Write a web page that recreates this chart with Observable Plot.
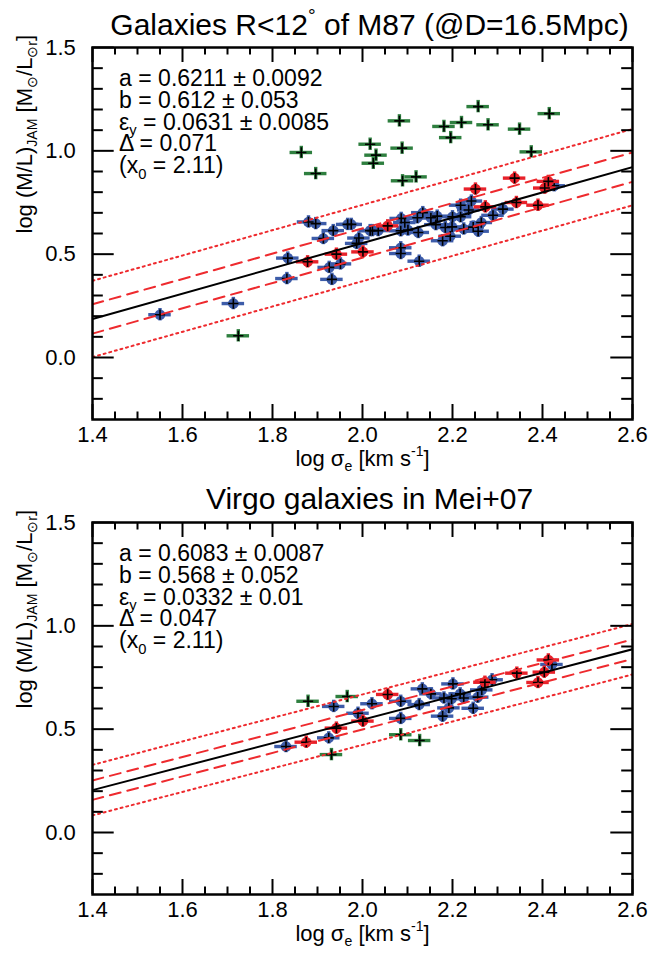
<!DOCTYPE html>
<html>
<head>
<meta charset="utf-8">
<script src="https://cdn.jsdelivr.net/npm/d3@7"></script>
<script src="https://cdn.jsdelivr.net/npm/@observablehq/plot@0.6"></script>
<style>
  body { margin: 0; background: #fff; }
  #chart svg { display: block; }
</style>
</head>
<body>
<div id="chart"></div>
<script>
const FONT = "'Liberation Sans', Arial, Helvetica, sans-serif";

// Axes: log sigma_e (x) and log (M/L)_JAM (y)
const xDomain = [1.4, 2.6];
const yDomain = [-0.3, 1.5];
const xMajor = [1.4, 1.6, 1.8, 2.0, 2.2, 2.4, 2.6];
const xMinor = [1.45, 1.5, 1.55, 1.65, 1.7, 1.75, 1.85, 1.9, 1.95, 2.05, 2.1, 2.15, 2.25, 2.3, 2.35, 2.45, 2.5, 2.55];
const yMajor = [0.0, 0.5, 1.0, 1.5];
const yMinor = [-0.2, -0.1, 0.1, 0.2, 0.3, 0.4, 0.6, 0.7, 0.8, 0.9, 1.1, 1.2, 1.3, 1.4];

// Typical measurement errors (dex)
const sigmaErr = 0.025;
const mlErr = 0.03;

// Outlier-clipping band half-width, in units of the observed rms
const clipSigma = 2.6;

// Galaxies within 12 deg of M87: [log sigma_e, log (M/L)]
const m87Blue = [
  [1.550, 0.207], [1.713, 0.261], [1.832, 0.382], [1.834, 0.481], [1.880, 0.656],
  [1.896, 0.648], [1.935, 0.614], [1.913, 0.576], [1.926, 0.436], [1.932, 0.378],
  [1.951, 0.453], [1.967, 0.644], [1.975, 0.644], [1.992, 0.578], [1.987, 0.552],
  [2.017, 0.614], [2.022, 0.614], [2.035, 0.614], [2.086, 0.673], [2.094, 0.653],
  [2.085, 0.613], [2.101, 0.617], [2.124, 0.605], [2.122, 0.676], [2.134, 0.701],
  [2.152, 0.676], [2.166, 0.684], [2.163, 0.643], [2.184, 0.629], [2.199, 0.632],
  [2.200, 0.681], [2.218, 0.737], [2.218, 0.681], [2.236, 0.714], [2.242, 0.757],
  [2.195, 0.587], [2.178, 0.565], [2.225, 0.622], [2.246, 0.631], [2.257, 0.611],
  [2.264, 0.653], [2.290, 0.688], [2.312, 0.718], [2.085, 0.531], [2.085, 0.503],
  [2.126, 0.466], [2.426, 0.831]
];
const m87Red = [
  [1.878, 0.463], [1.942, 0.500], [2.001, 0.511], [2.056, 0.637], [2.251, 0.815],
  [2.273, 0.729], [2.338, 0.868], [2.342, 0.750], [2.390, 0.737], [2.405, 0.820],
  [2.413, 0.852]
];
const m87Green = [
  [1.724, 0.105], [1.864, 0.992], [1.896, 0.890], [2.017, 1.032], [2.030, 0.979],
  [2.024, 0.940], [2.082, 1.145], [2.088, 1.013], [2.089, 0.855], [2.119, 0.874],
  [2.181, 1.118], [2.196, 1.064], [2.220, 1.137], [2.257, 1.214], [2.279, 1.126],
  [2.349, 1.105], [2.375, 0.995], [2.415, 1.180]
];
const m87Fit = { a: 0.6211, b: 0.612, delta: 0.071, x0: 2.11 };
const m87Stats = [
  [["a = 0.6211 ± 0.0092"]],
  [["b = 0.612 ± 0.053"]],
  [["ε"], ["y", "sub"], [" = 0.0631 ± 0.0085"]],
  [["Δ = 0.071"]],
  [["(x"], ["0", "sub"], [" = 2.11)"]]
];
const m87Title = [["Galaxies R<12"], ["°", "sup"], [" of M87 (@D=16.5Mpc)"]];

// Virgo galaxies with Mei+07 distances
const meiBlue = [
  [1.830, 0.416], [1.925, 0.458], [1.936, 0.610], [1.990, 0.577], [2.021, 0.623],
  [2.085, 0.635], [2.085, 0.552], [2.126, 0.619], [2.133, 0.695], [2.152, 0.671],
  [2.181, 0.651], [2.201, 0.719], [2.198, 0.647], [2.217, 0.671], [2.225, 0.651],
  [2.192, 0.603], [2.178, 0.563], [2.246, 0.601], [2.256, 0.655], [2.265, 0.690],
  [2.288, 0.739], [2.421, 0.813]
];
const meiRed = [
  [1.875, 0.437], [1.942, 0.505], [2.001, 0.539], [2.056, 0.668], [2.272, 0.727],
  [2.343, 0.771], [2.390, 0.726], [2.404, 0.776], [2.413, 0.835]
];
const meiGreen = [
  [1.879, 0.635], [1.931, 0.377], [1.966, 0.658], [2.085, 0.473], [2.127, 0.445]
];
const meiFit = { a: 0.6083, b: 0.568, delta: 0.047, x0: 2.11 };
const meiStats = [
  [["a = 0.6083 ± 0.0087"]],
  [["b = 0.568 ± 0.052"]],
  [["ε"], ["y", "sub"], [" = 0.0332 ± 0.01"]],
  [["Δ = 0.047"]],
  [["(x"], ["0", "sub"], [" = 2.11)"]]
];
const meiTitle = [["Virgo galaxies in Mei+07"]];

const xTitle = [["log σ"], ["e", "sub"], [" [km s"], ["-1", "sup"], ["]"]];
const yTitle = [["log (M/L)"], ["JAM", "sub"], [" [M"], ["⊙", "sub"], ["/L"], ["⊙r", "sub"], ["]"]];

const colors = { blue: "#3d5ca9", red: "#e8212a", green: "#2e7f3f", fitLine: "#000", band: "#ee2a2e" };

const plain = parts => parts.map(p => p[0]).join("");

// Replace a text element's content with tspans carrying sub/superscripts
function rich(svg, cls, parts, fs) {
  const t = d3.select(svg).select(`g.${cls} text`);
  if (t.empty()) return;
  t.text(null);
  let shift = 0;
  for (const [s, kind] of parts) {
    const target = kind === "sub" ? 0.24 * fs : kind === "sup" ? -0.42 * fs : 0;
    const ts = t.append("tspan").text(s).attr("dy", target - shift);
    if (kind) ts.attr("font-size", 0.64 * fs);
    shift = target;
  }
}

function pointMarks(data, color, withDot) {
  const marks = [
    Plot.ruleY(data, { y: d => d[1], x1: d => d[0] - sigmaErr, x2: d => d[0] + sigmaErr, stroke: color, strokeWidth: 3.4 }),
    Plot.ruleX(data, { x: d => d[0], y1: d => d[1] - mlErr, y2: d => d[1] + mlErr, stroke: color, strokeWidth: 3.4 })
  ];
  if (withDot) marks.push(Plot.dot(data, { x: d => d[0], y: d => d[1], r: 5.3, fill: color, stroke: null }));
  marks.push(Plot.dot(data, { x: d => d[0], y: d => d[1], symbol: "plus", r: 3.4, stroke: "#000", strokeWidth: 1.6 }));
  return marks;
}

function panel({ key, title, titleDy, blue, red, green, fit, stats, marginTop, marginBottom }) {
  const W = 662, H = 478, mL = 92, mR = 30;
  const fw = W - mL - mR, fh = H - marginTop - marginBottom;
  const bands = [
    { k: 0, stroke: colors.fitLine, dash: null },
    { k: 1, stroke: colors.band, dash: "11,7" },
    { k: -1, stroke: colors.band, dash: "11,7" },
    { k: clipSigma, stroke: colors.band, dash: "2,3.8" },
    { k: -clipSigma, stroke: colors.band, dash: "2,3.8" }
  ];
  const lineMarks = bands.map(({ k, stroke, dash }) =>
    Plot.line(xDomain.map(x => ({ x, y: fit.a + fit.b * (x - fit.x0) + k * fit.delta })), {
      x: "x", y: "y", stroke, strokeWidth: 2, strokeDasharray: dash, clip: true
    })
  );
  const statMarks = stats.map((parts, i) =>
    Plot.text([plain(parts)], {
      text: d => d, frameAnchor: "top-left", textAnchor: "start", lineAnchor: "bottom",
      dx: 26.6, dy: 38.5 + i * 21.8, fontSize: 23, fill: "#000", className: `${key}-stat${i}`
    })
  );
  const svg = Plot.plot({
    width: W, height: H,
    marginLeft: mL, marginRight: mR, marginTop, marginBottom,
    x: { domain: xDomain, axis: null },
    y: { domain: yDomain, axis: null },
    style: { fontFamily: FONT, background: "#fff", color: "#000", overflow: "visible" },
    marks: [
      ...pointMarks(green, colors.green, false),
      ...pointMarks(blue, colors.blue, true),
      ...pointMarks(red, colors.red, true),
      ...lineMarks,
      // tick marks on all four sides, pointing inward
      Plot.tickX(xMajor, { x: d => d, insetTop: fh - 15, stroke: "#000", strokeWidth: 2 }),
      Plot.tickX(xMajor, { x: d => d, insetBottom: fh - 15, stroke: "#000", strokeWidth: 2 }),
      Plot.tickX(xMinor, { x: d => d, insetTop: fh - 7.5, stroke: "#000", strokeWidth: 2 }),
      Plot.tickX(xMinor, { x: d => d, insetBottom: fh - 7.5, stroke: "#000", strokeWidth: 2 }),
      Plot.tickY(yMajor, { y: d => d, insetRight: fw - 21.7, stroke: "#000", strokeWidth: 2 }),
      Plot.tickY(yMajor, { y: d => d, insetLeft: fw - 21.7, stroke: "#000", strokeWidth: 2 }),
      Plot.tickY(yMinor, { y: d => d, insetRight: fw - 10.8, stroke: "#000", strokeWidth: 2 }),
      Plot.tickY(yMinor, { y: d => d, insetLeft: fw - 10.8, stroke: "#000", strokeWidth: 2 }),
      Plot.frame({ stroke: "#000", strokeWidth: 2.5 }),
      // tick labels
      Plot.text(xMajor, { x: d => d, text: d => d.toFixed(1), frameAnchor: "bottom", dy: 22, fontSize: 22, fill: "#000" }),
      Plot.text(yMajor, { y: d => d, text: d => d.toFixed(1), frameAnchor: "left", textAnchor: "end", dx: -16.7, fontSize: 22, fill: "#000" }),
      // axis titles
      Plot.text([plain(xTitle)], { text: d => d, frameAnchor: "bottom", dy: 46, fontSize: 22, fill: "#000", className: `${key}-xtitle` }),
      Plot.text([plain(yTitle)], { text: d => d, frameAnchor: "left", rotate: -90, dx: -67.7, fontSize: 22, fill: "#000", className: `${key}-ytitle` }),
      // panel title
      Plot.text([plain(title)], { text: d => d, frameAnchor: "top", lineAnchor: "bottom", dx: 7, dy: titleDy, fontSize: 30, fill: "#000", className: `${key}-title` }),
      ...statMarks
    ]
  });
  rich(svg, `${key}-title`, title, 30);
  rich(svg, `${key}-xtitle`, xTitle, 22);
  rich(svg, `${key}-ytitle`, yTitle, 22);
  stats.forEach((parts, i) => rich(svg, `${key}-stat${i}`, parts, 23));
  return svg;
}

const chart = document.getElementById("chart");
chart.append(panel({
  key: "m87", title: m87Title, titleDy: -13,
  blue: m87Blue, red: m87Red, green: m87Green, fit: m87Fit, stats: m87Stats,
  marginTop: 47, marginBottom: 59
}));
chart.append(panel({
  key: "mei", title: meiTitle, titleDy: -14,
  blue: meiBlue, red: meiRed, green: meiGreen, fit: meiFit, stats: meiStats,
  marginTop: 44, marginBottom: 62
}));
</script>
</body>
</html>
